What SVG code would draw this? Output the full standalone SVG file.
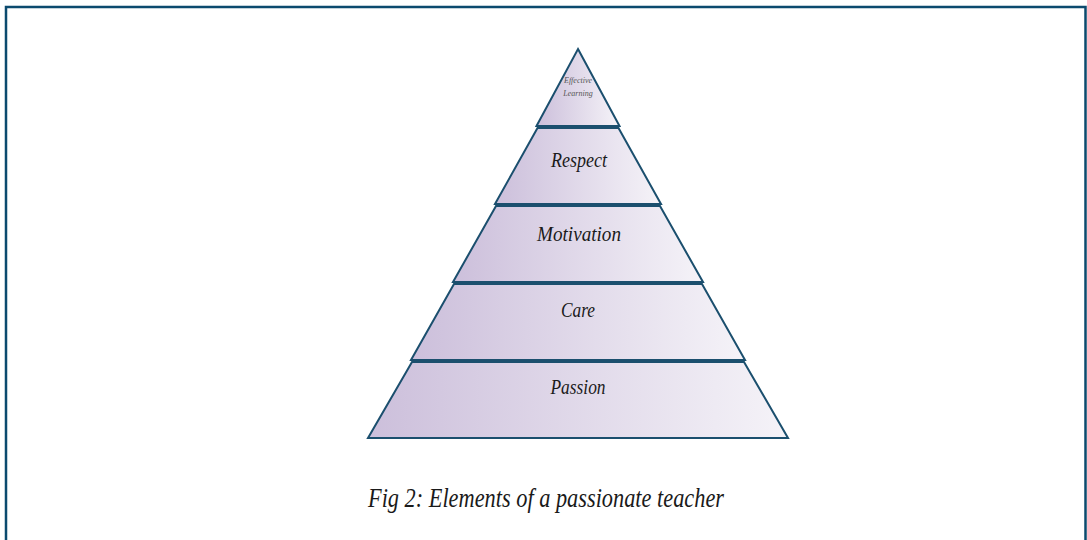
<svg xmlns="http://www.w3.org/2000/svg" width="1087" height="540" viewBox="0 0 1087 540">
<defs>
<linearGradient id="g" x1="0" y1="0" x2="1" y2="0">
<stop offset="0" stop-color="#ccbfdb"/>
<stop offset="1" stop-color="#f5f3f8"/>
</linearGradient>
<style>
.layer{fill:url(#g);stroke:#1b4f6e;stroke-width:2;stroke-linejoin:miter}
.lbl{font-family:"Liberation Serif","DejaVu Serif",serif;font-style:italic;fill:#1a1a1a;text-anchor:middle}
.small{fill:#555555}
</style>
</defs>
<rect x="0" y="0" width="1087" height="540" fill="#ffffff"/>
<path d="M6,540 V7 H1085.5 V540" fill="none" stroke="#0b4a6e" stroke-width="2.5"/>
<g id="layer-effective-learning">
<polygon class="layer" points="578,49 619.5,126 536.5,126"/>
<text class="lbl small" x="578" y="83" font-size="8">Effective</text>
<text class="lbl small" x="578" y="96" font-size="8">Learning</text>
</g>
<g id="layer-respect">
<polygon class="layer" points="537.5,128 618.5,128 661,204 495,204"/>
<text class="lbl" x="579" y="167" font-size="21" textLength="56" lengthAdjust="spacingAndGlyphs">Respect</text>
</g>
<g id="layer-motivation">
<polygon class="layer" points="496,206 660,206 703,282 453,282"/>
<text class="lbl" x="579" y="241" font-size="21" textLength="84" lengthAdjust="spacingAndGlyphs">Motivation</text>
</g>
<g id="layer-care">
<polygon class="layer" points="454,284 702,284 745,360 411,360"/>
<text class="lbl" x="578" y="317" font-size="21" textLength="34" lengthAdjust="spacingAndGlyphs">Care</text>
</g>
<g id="layer-passion">
<polygon class="layer" points="412,362 744,362 788,438 368,438"/>
<text class="lbl" x="578" y="394" font-size="21" textLength="55" lengthAdjust="spacingAndGlyphs">Passion</text>
</g>
<g id="connectors"></g>
<text id="caption" class="lbl" x="546" y="507" font-size="27" textLength="356" lengthAdjust="spacingAndGlyphs">Fig 2: Elements of a passionate teacher</text>
</svg>
